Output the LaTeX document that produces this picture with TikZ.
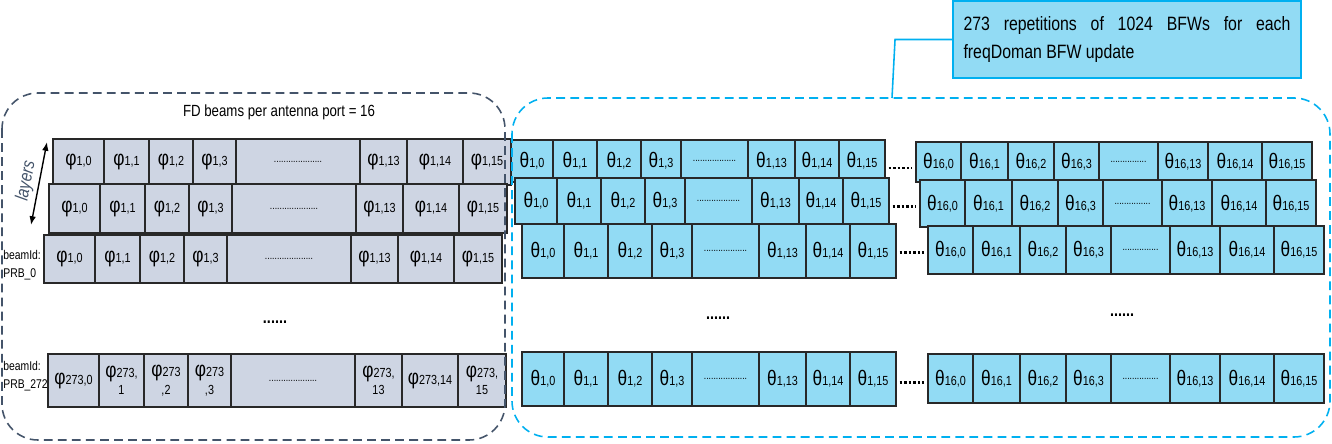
\documentclass[tikz,border=0pt]{standalone}
\usepackage{fontspec}
\setmainfont[FakeStretch=0.82]{Liberation Sans}
\usepackage{xcolor}
\usetikzlibrary{positioning,arrows.meta}
\definecolor{PhiGray}{RGB}{206,213,227}
\definecolor{ThetaBlue}{RGB}{146,219,244}
\definecolor{BfwCyan}{RGB}{0,176,240}
\definecolor{SlateBlue}{RGB}{68,84,106}
\definecolor{CellLine}{RGB}{40,40,40}

% cell labels
\newcommand{\dgt}[1]{{\fontsize{7.5}{10}\selectfont #1}}
\newcommand{\phc}[1]{{\fontsize{12}{10}\selectfont φ}\dgt{#1}}
\newcommand{\thc}[1]{{\fontsize{12}{10}\selectfont θ}\dgt{#1}}
\newcommand{\fillerdots}[1]{{\fontsize{6}{6}\selectfont #1}}

% one row of cells: name, west point, height (px), style, width/label list
\newcommand{\bfwrow}[5]{%
  \coordinate (#1-0) at #2;
  \foreach \w/\lab [count=\i, remember=\i as \j (initially 0)] in #5
    \node[#4, minimum width=\w*0.02cm, minimum height=#3*0.02cm, right=0pt of #1-\j] (#1-\i) {\lab};
}

\newcommand{\phirow}{51/{\phc{1,0}},45/{\phc{1,1}},44/{\phc{1,2}},43/{\phc{1,3}},124/{\fillerdots{....................}},47/{\phc{1,13}},56/{\phc{1,14}},48/{\phc{1,15}}}
\newcommand{\philast}{51/{\phc{273,0}},45/{\phc{273,}\\\dgt{1}},44/{\phc{273}\\\dgt{,2}},43/{\phc{273}\\\dgt{,3}},124/{\fillerdots{....................}},47/{\phc{273,}\\\dgt{13}},56/{\phc{273,14}},48/{\phc{273,}\\\dgt{15}}}
\newcommand{\thmid}{42/{\thc{1,0}},44/{\thc{1,1}},44/{\thc{1,2}},40/{\thc{1,3}},67/{\fillerdots{..................}},47/{\thc{1,13}},44/{\thc{1,14}},46/{\thc{1,15}}}
\newcommand{\thright}{45/{\thc{16,0}},47/{\thc{16,1}},46/{\thc{16,2}},45/{\thc{16,3}},59/{\fillerdots{...............}},50/{\thc{16,13}},54/{\thc{16,14}},50/{\thc{16,15}}}

\begin{document}
\begin{tikzpicture}[x=0.02cm, y=-0.02cm,
  phicell/.style={draw=CellLine, line width=1pt, fill=PhiGray, inner sep=1pt, outer sep=0pt, align=center, font=\fontsize{7.5}{10}\selectfont},
  thcell/.style={phicell, fill=ThetaBlue},
  frame/.style={line width=0.9pt, dash pattern=on 5pt off 3pt, rounded corners=0.72cm},
  dotline/.style={line width=1.6pt, dash pattern=on 1.4pt off 1.2pt, shorten <=2pt, shorten >=2pt},
  vdots/.style={font=\fontsize{10}{10}\selectfont\bfseries, inner sep=0pt},
  beamlbl/.style={anchor=west, align=left, inner sep=0pt, font=\fontsize{7.2}{10}\selectfont},
  note/.style={draw=BfwCyan, fill=ThetaBlue, line width=1.1pt, minimum width=348*0.02cm, minimum height=77*0.02cm, text width=327*0.02cm, align=justify, font=\fontsize{11}{16.5}\selectfont}]
\useasboundingbox (0,0) rectangle (1332,443);

% FD beams, one row per layer
\bfwrow{L1}{(53,162)}{46}{phicell}{\phirow}
\bfwrow{L2}{(49,208.5)}{49}{phicell}{\phirow}
\bfwrow{L3}{(44,259)}{48}{phicell}{\phirow}
\bfwrow{L4}{(48,380.5)}{53}{phicell}{\philast}

% first repetition
\bfwrow{M1}{(511,161)}{42}{thcell}{\thmid}
\bfwrow{M2}{(515,201)}{46}{thcell}{\thmid}
\bfwrow{M3}{(522,251)}{54}{thcell}{\thmid}
\bfwrow{M4}{(522,379)}{54}{thcell}{\thmid}

% last repetition
\bfwrow{R1}{(916,162)}{40}{thcell}{\thright}
\bfwrow{R2}{(920,203.5)}{47}{thcell}{\thright}
\bfwrow{R3}{(928,250)}{48}{thcell}{\thright}
\bfwrow{R4}{(928,378.5)}{49}{thcell}{\thright}

% dots between repetitions
\foreach \r/\s in {1/-4pt, 2/-3pt, 3/-1pt, 4/-2pt}{
  \path ([yshift=\s]M\r-8.east) coordinate (gap\r);
  \draw[dotline] (gap\r) -- (gap\r -| R\r-1.west);
}
\node[vdots] (lvdots) at (275,322) {......};
\node[vdots] (mvdots) at (718,318) {......};
\node[vdots] (rvdots) at (1122,315) {......};

% labels
\node[font=\fontsize{9.2}{11}\selectfont] (fdtitle) at (279,112) {FD beams per antenna port = 16};
\node[beamlbl] (prb0) at (3,265) {beamId:\\PRB\_0};
\node[beamlbl] (prb272) at (3,376) {beamId:\\PRB\_272};

% layers arrow
\coordinate (laybot) at (31,225);
\coordinate (laytop) at (47,142);
\draw[{Latex[length=5pt]}-{Latex[length=5pt]}, line width=0.8pt] (laybot) -- (laytop)
  node[midway, sloped, above=2pt, inner sep=0pt, text=SlateBlue, font=\fontsize{10.5}{11}\selectfont\itshape] (laylbl) {layers};

% frames
\draw[frame, SlateBlue] (2,93) rectangle (505,440);
\draw[frame, BfwCyan] (512,98) rectangle (1330,437);

% callout
\node[note] (note) at (1127,39.5) {273 repetitions of 1024 BFWs for each \mbox{freqDoman} BFW update};
\coordinate (hook) at (892,98);
\draw[BfwCyan, line width=0.9pt] (note.west) -- ++(-57,0) -- (hook);
\end{tikzpicture}
\end{document}
